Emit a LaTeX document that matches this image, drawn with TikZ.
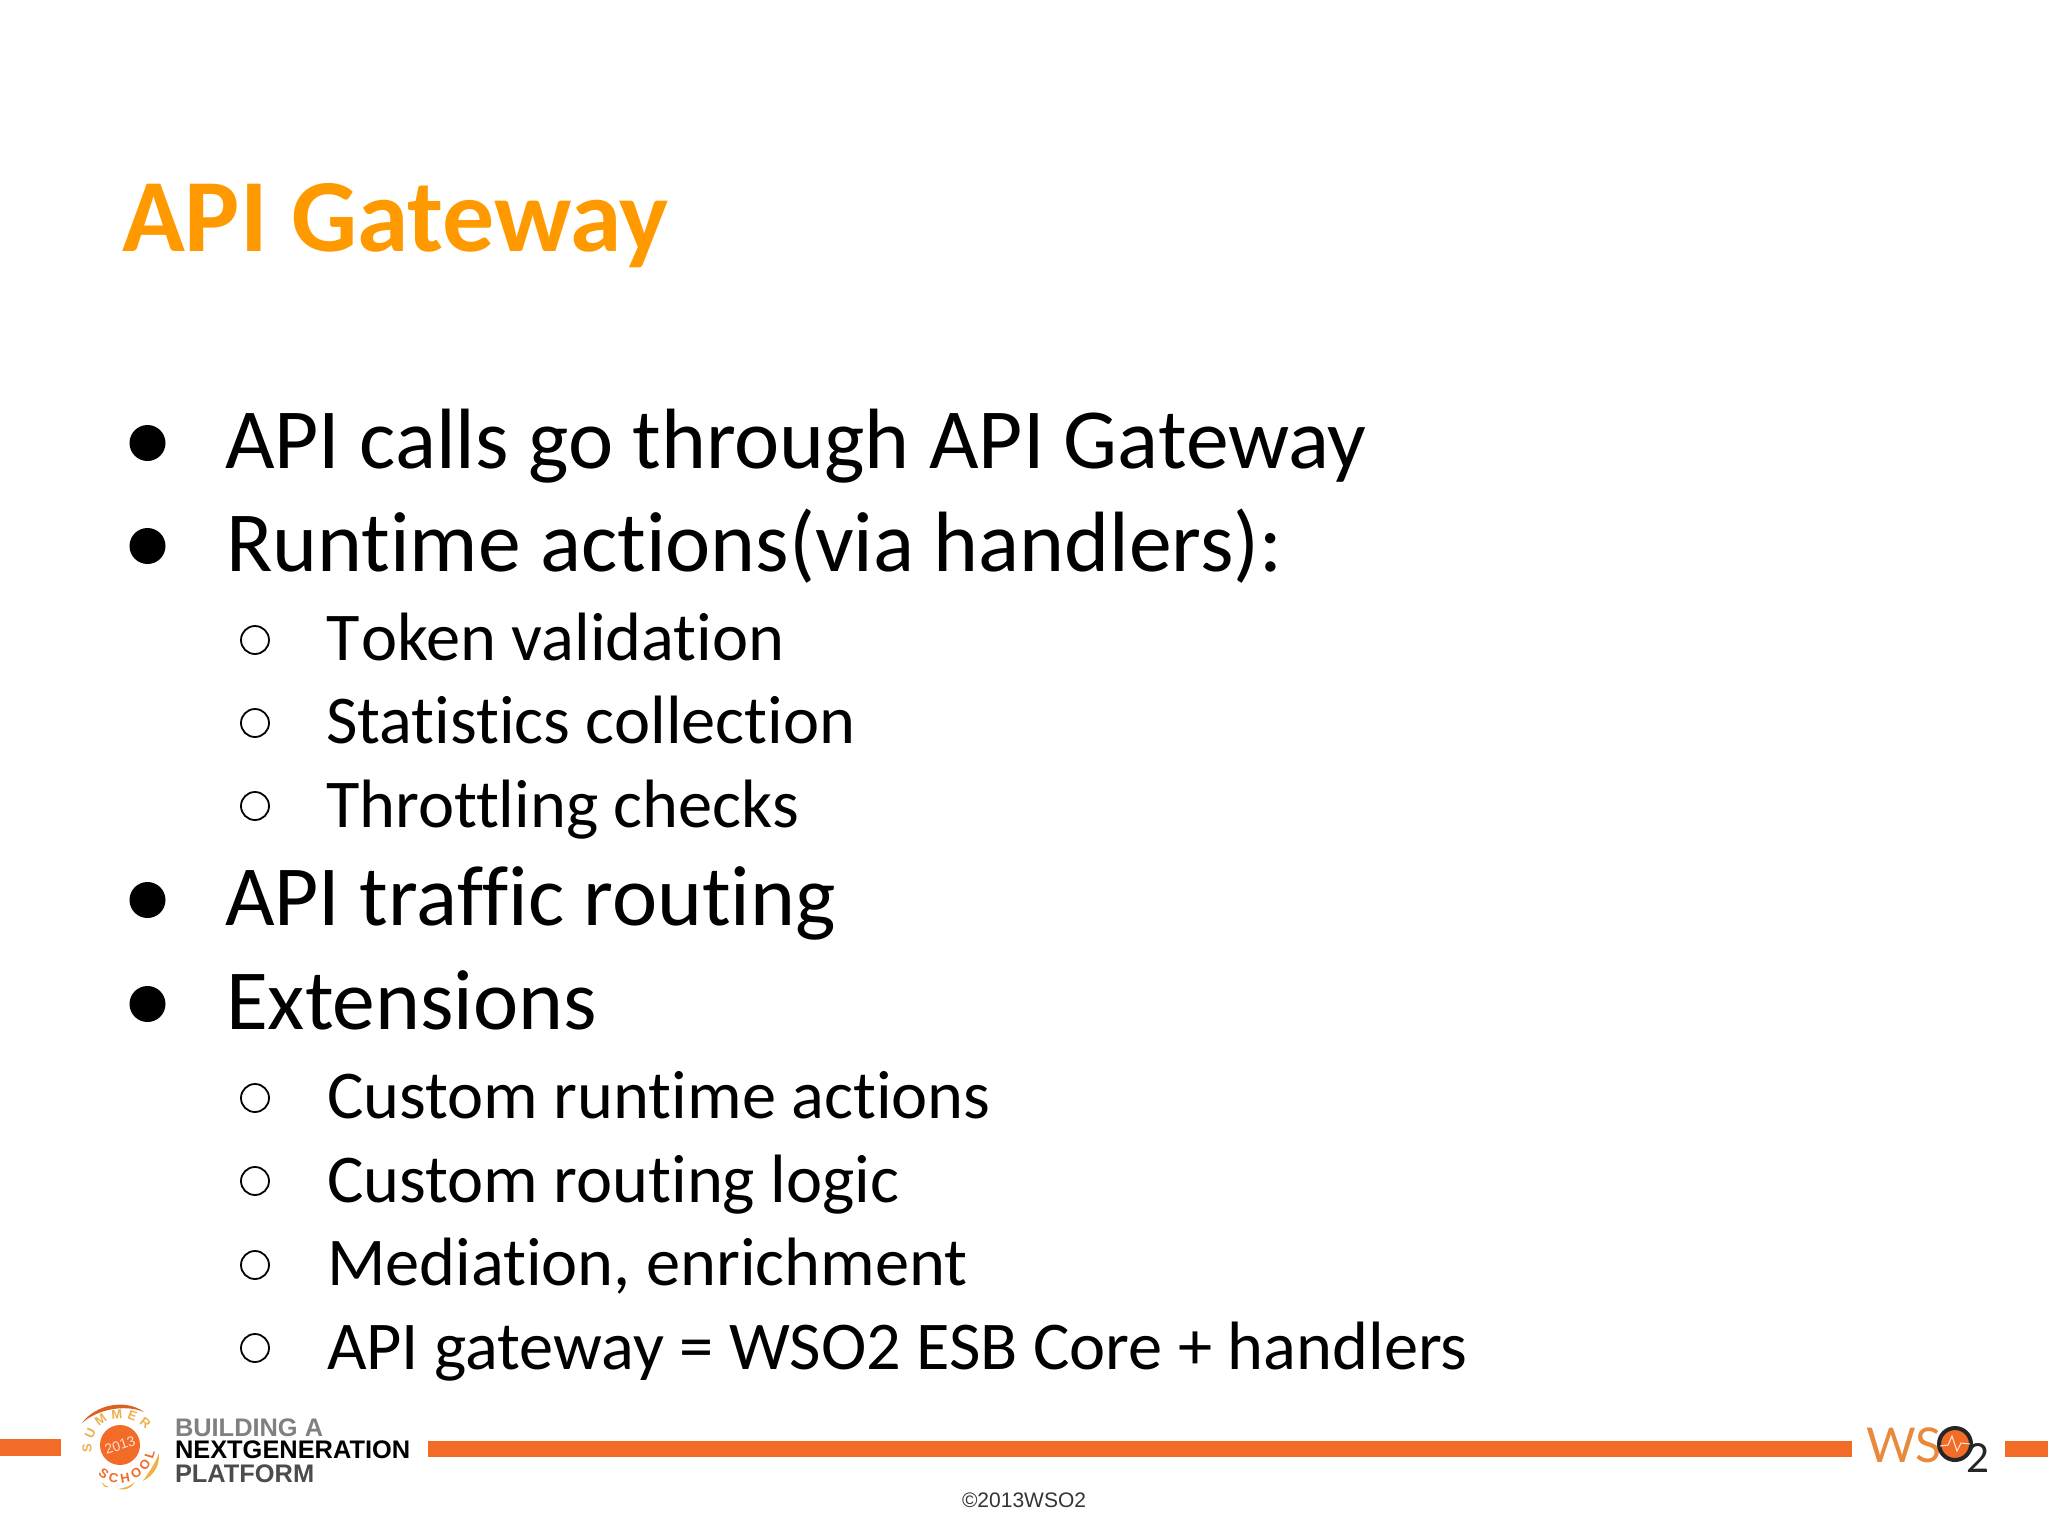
\documentclass[tikz,border=0pt]{standalone}
\usepackage{fontspec}
\setmainfont{Carlito}[RawFeature=-liga]
\newfontfamily\footfont{Liberation Sans}
\newfontfamily\wsofont{Lato}
\usetikzlibrary{decorations.text}
\definecolor{titleorange}{HTML}{FF9900}
\definecolor{barorange}{HTML}{F26B27}
\definecolor{wsoorange}{HTML}{E88A3C}
\definecolor{schoolyellow}{HTML}{EDB04A}
\tikzset{
  slidetext/.style = {anchor=base west, inner sep=0pt, outer sep=0pt},
  slidetitle/.style = {slidetext, text=titleorange, font=\fontsize{51.9}{51.9}\selectfont\bfseries},
  itemtext/.style = {slidetext, font=\fontsize{42.8}{42.8}\selectfont},
  subtext/.style = {slidetext, font=\fontsize{34.2}{34.2}\selectfont},
  bigdot/.style = {circle, fill=black, inner sep=0pt, minimum size=18pt},
  smalldot/.style = {circle, draw=black, line width=0.9pt, fill=none, inner sep=0pt, minimum size=14pt},
  footerbar/.style = {fill=barorange},
  platformtext/.style = {slidetext, font=\fontsize{12.7}{12.7}\selectfont\footfont\bfseries}
}
\begin{document}
\begin{tikzpicture}[x=0.5pt, y=-0.5pt]
  \useasboundingbox (0,0) rectangle (2048,1536);

  \node[slidetitle] (title) at (122,251) {API Gateway};

  \node[bigdot] (dotCalls) at (147.5,443) {};
  \node[itemtext] (itemCalls) at (225,468) {API calls go through API Gateway};
  \node[bigdot] (dotRuntime) at (147.5,546) {};
  \node[itemtext] (itemRuntime) at (226,571) {Runtime actions(via handlers):};
  \node[smalldot] (dotToken) at (255,640) {};
  \node[subtext] (subToken) at (326,660.5) {T\kern1pt oken validation};
  \node[smalldot] (dotStats) at (255,723) {};
  \node[subtext] (subStats) at (326,743.5) {Statistics collection};
  \node[smalldot] (dotThrottle) at (255,806) {};
  \node[subtext] (subThrottle) at (326,827) {Throttling checks};
  \node[bigdot] (dotRouting) at (147.5,900) {};
  \node[itemtext] (itemRouting) at (225,925) {API traffic routing};
  \node[bigdot] (dotExt) at (147.5,1004) {};
  \node[itemtext] (itemExt) at (226,1029.5) {Extensions};
  \node[smalldot] (dotCustom) at (255,1098) {};
  \node[subtext] (subCustom) at (327,1118.5) {Custom runtime actions};
  \node[smalldot] (dotLogic) at (255,1181) {};
  \node[subtext] (subLogic) at (327,1202) {Custom routing logic};
  \node[smalldot] (dotMed) at (255,1265) {};
  \node[subtext] (subMed) at (327,1285) {Mediation, enrichment};
  \node[smalldot] (dotEsb) at (255,1348) {};
  \node[subtext] (subEsb) at (327,1369) {API gateway = WSO2 ESB Core + handlers};

  % footer bars
  \fill[footerbar] (0,1439) rectangle (61,1456);
  \fill[footerbar] (428,1441) rectangle (1852,1457);
  \fill[footerbar] (2005,1441) rectangle (2048,1457);

  % summer school logo
  \fill[barorange] (120,1445) circle (20);
  \node[inner sep=0pt, rotate=18, text=white!80!barorange, font=\fontsize{7}{7}\selectfont\footfont] (logoYear) at (120,1445) {2013};
  \fill[barorange!90!black] (82,1423) .. controls (95,1405) and (125,1398) .. (144,1412)
    .. controls (125,1404) and (98,1409) .. (82,1423);
  \fill[schoolyellow] (159,1453) .. controls (160,1468) and (152,1476) .. (143,1481)
    .. controls (149,1472) and (155,1464) .. (159,1453);
  \fill[schoolyellow] (118,1489) .. controls (125,1488) and (130,1486) .. (135,1482)
    .. controls (130,1490) and (124,1490) .. (118,1489);
  \fill[schoolyellow] (102,1482) .. controls (104,1485) and (106,1486) .. (109,1487)
    .. controls (105,1488) and (103,1486) .. (102,1482);
  \path[decorate, decoration={text along path, text align=fit to path,
      text={|\fontsize{6.5}{6.5}\selectfont\footfont\bfseries\color{schoolyellow}|SUMMER}}]
    (92,1452) .. controls (88,1422) and (122,1406) .. (146,1430);
  \path[decorate, decoration={text along path, text align=fit to path,
      text={|\fontsize{6.5}{6.5}\selectfont\footfont\bfseries\color{barorange}|SCHOOL}}]
    (98,1474) .. controls (112,1490) and (148,1485) .. (155,1452);

  % footer caption
  \node[platformtext, text=black!50] (captionBuilding) at (175,1436) {BUILDING A};
  \node[platformtext, text=black] (captionNext) at (175,1458) {NEXTGENERATION};
  \node[platformtext, text=black!70] (captionPlatform) at (175,1482) {PLATFORM};

  % wso2 logo
  \node[slidetext, text=wsoorange, font=\fontsize{24}{24}\selectfont\wsofont] (wsoLetters) at (1866,1462) {WS};
  \node[slidetext, text=black!85, font=\fontsize{20}{20}\selectfont\wsofont] (wsoTwo) at (1966,1472) {2};
  \node[circle, draw=black!85, line width=2pt, fill=barorange, inner sep=0pt, minimum size=16pt] (wsoRing) at (1955,1444) {};
  \draw[white!85!barorange, line width=0.5pt] (1940,1446) -- (1948,1445) -- (1952,1436) -- (1957,1451) -- (1961,1443) -- (1970,1444);

  \node[slidetext, text=black!80, font=\fontsize{10.5}{10.5}\selectfont\footfont] (copyright) at (962,1507) {©2013WSO2};
\end{tikzpicture}
\end{document}
